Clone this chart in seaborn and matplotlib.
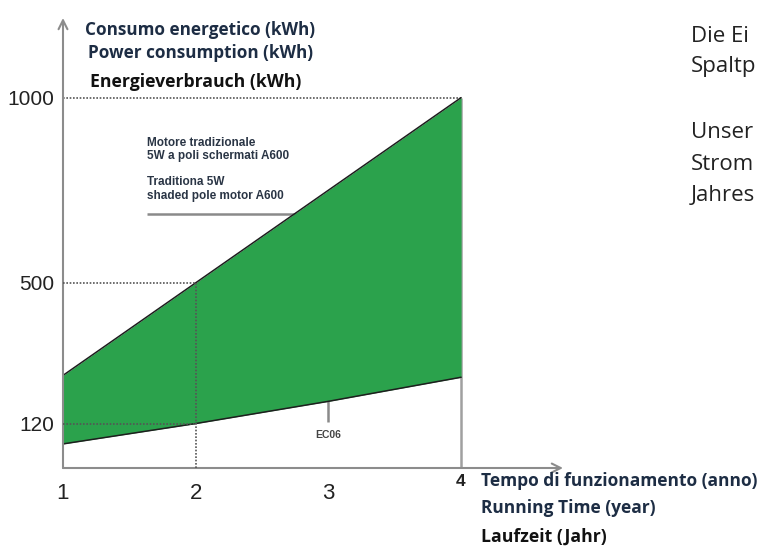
""" Energy consumption: traditional shaded pole motor vs EC06 """

import pandas as pd
import seaborn as sns
import matplotlib.pyplot as plt

# step 1: data
years = [1, 2, 3, 4]
traditional_kwh = [250, 500, 750, 1000]
ec06_kwh = [65, 120, 180, 245]
y_ticks = [120, 500, 1000]

df = pd.DataFrame({"year": years, "traditional": traditional_kwh, "ec06": ec06_kwh})

# step 2: style
sns.set_style("white")
plt.rcParams["font.family"] = ["Liberation Sans", "DejaVu Sans"]

green = "#2ba24c"
navy = "#1d2d44"
axis_grey = "#8c8c8c"
W, H = 760, 550


def px(x, y):
    return x / W, 1 - y / H


fig = plt.figure(figsize=(7.6, 5.5), dpi=100)
ax = fig.add_axes([63 / W, 82 / H, 500 / W, 450 / H])
ax.set_xlim(1, 4.768)
ax.set_ylim(0, 1215)

# step 3: plot the band between the two motors
ax.fill_between(df["year"], df["ec06"], df["traditional"], color=green, lw=0, zorder=2)
sns.lineplot(data=df, x="year", y="traditional", color="#1e1e1e", lw=1.1, ax=ax, zorder=3)
sns.lineplot(data=df, x="year", y="ec06", color="#1e1e1e", lw=1.1, ax=ax, zorder=3)

# step 4: guide lines
dot = dict(color="#555555", lw=1.2, linestyle=(0, (1, 1)))
ax.hlines(y_ticks[2], years[0], years[3], zorder=1, **dot)
ax.hlines(y_ticks[:2], years[0], years[1], zorder=4, **dot)
ax.vlines(years[1], 0, y_ticks[1], zorder=4, **dot)
ax.vlines(years[3], 0, y_ticks[2], color="#a0a0a0", lw=1.8, zorder=1)

# traditional motor label line + EC06 pointer
ax.hlines(686, 1.63, 2.8, color="#8a8a8a", lw=1.8, zorder=1)
ax.vlines(years[2], 124, ec06_kwh[2], color="#8a8a8a", lw=1.8, zorder=1)
ax.text(years[2], 89, "EC06", ha="center", va="center", fontsize=7.5,
        fontweight="bold", color="#444444")

# step 5: axes with arrows
for s in ax.spines.values():
    s.set_visible(False)
arrow = dict(arrowstyle="->", color=axis_grey, lw=1.5, shrinkA=0, shrinkB=0, mutation_scale=16)
ax.annotate("", xy=(0, 1), xytext=(0, 0), xycoords="axes fraction", arrowprops=arrow)
ax.annotate("", xy=(1, 0), xytext=(0, 0), xycoords="axes fraction", arrowprops=arrow)

ax.set_yticks(y_ticks)
ax.set_yticklabels([str(v) for v in y_ticks])
ax.set_xticks(years[:3])
ax.set_xticklabels([str(v) for v in years[:3]])
ax.tick_params(axis="y", length=0, pad=6, labelsize=15, labelcolor="#222222")
ax.tick_params(axis="x", length=0, pad=11, labelsize=16, labelcolor="#222222")
ax.set_xlabel("")
ax.set_ylabel("")

# step 6: labels
fig.text(*px(461, 481), str(years[3]), ha="center", va="center", fontsize=12.5,
         fontweight="bold", color="#222222")

fig.text(*px(85, 30), "Consumo energetico (kWh)", ha="left", va="center",
         fontsize=12.3, fontweight="bold", color=navy, family="Open Sans")
fig.text(*px(88, 53), "Power consumption (kWh)", ha="left", va="center",
         fontsize=12.3, fontweight="bold", color=navy, family="Open Sans")
fig.text(*px(90, 82), "Energieverbrauch (kWh)", ha="left", va="center",
         fontsize=12.7, fontweight="bold", color="#111111", family="Open Sans")

fig.text(*px(481, 481), "Tempo di funzionamento (anno)", ha="left", va="center",
         fontsize=12.5, fontweight="bold", color=navy, family="Open Sans")
fig.text(*px(481, 508), "Running Time (year)", ha="left", va="center",
         fontsize=12.5, fontweight="bold", color=navy, family="Open Sans")
fig.text(*px(481, 537), "Laufzeit (Jahr)", ha="left", va="center",
         fontsize=12.7, fontweight="bold", color="#111111", family="Open Sans")

motor_lines = [("Motore tradizionale", 143), ("5W a poli schermati A600", 156),
               ("Traditiona 5W", 182), ("shaded pole motor A600", 196)]
for txt, y in motor_lines:
    fig.text(*px(147, y), txt, ha="left", va="center", fontsize=8.5,
             fontweight="bold", color="#2a3545")

# cut-off paragraph on the right
for txt, y in [("Die Ei", 42), ("Spaltp", 72), ("Unser", 138), ("Strom", 170), ("Jahres", 201)]:
    fig.text(*px(691, y), txt, ha="left", va="baseline", fontsize=16,
             color="#222222", family="Open Sans")

plt.savefig("out.png", dpi=100)
